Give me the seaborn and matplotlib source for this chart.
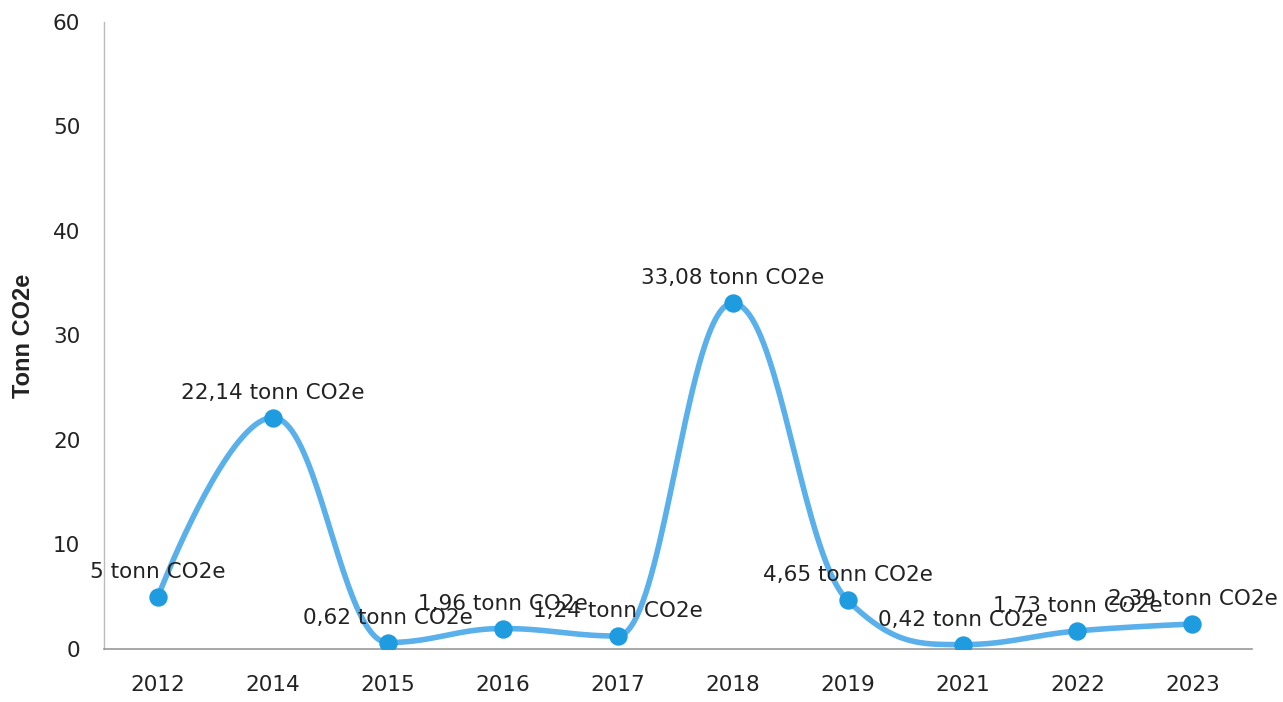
import numpy as np
import pandas as pd
import matplotlib
matplotlib.use("Agg")
import matplotlib.pyplot as plt
import seaborn as sns

years = ["2012", "2014", "2015", "2016", "2017", "2018", "2019", "2021", "2022", "2023"]
values = [5.0, 22.14, 0.62, 1.96, 1.24, 33.08, 4.65, 0.42, 1.73, 2.39]
labels = ["5 tonn CO2e", "22,14 tonn CO2e", "0,62 tonn CO2e", "1,96 tonn CO2e",
          "1,24 tonn CO2e", "33,08 tonn CO2e", "4,65 tonn CO2e", "0,42 tonn CO2e",
          "1,73 tonn CO2e", "2,39 tonn CO2e"]
y_ticks = [0, 10, 20, 30, 40, 50, 60]

sns.set_theme(style="white")
plt.rcParams['font.family'] = ['DejaVu Sans']

df = pd.DataFrame({"pos": np.arange(len(years)), "value": values})

# Highcharts-style spline (bezier with clamped control points)
def hc_spline(x, y, n=40):
    x = np.asarray(x, float); y = np.asarray(y, float)
    N = len(x)
    sm, den = 1.5, 2.5
    lcx, lcy, rcx, rcy = x.copy(), y.copy(), x.copy(), y.copy()
    for i in range(1, N - 1):
        px, py = x[i], y[i]
        lx, ly, nx, ny = x[i - 1], y[i - 1], x[i + 1], y[i + 1]
        a = (sm * px + lx) / den; b = (sm * py + ly) / den
        c = (sm * px + nx) / den; d = (sm * py + ny) / den
        corr = (d - b) * (c - px) / (c - a) + py - d
        b += corr; d += corr
        if b > ly and b > py:
            b = max(ly, py); d = 2 * py - b
        elif b < ly and b < py:
            b = min(ly, py); d = 2 * py - b
        if d > ny and d > py:
            d = max(ny, py); b = 2 * py - d
        elif d < ny and d < py:
            d = min(ny, py); b = 2 * py - d
        lcx[i], lcy[i], rcx[i], rcy[i] = a, b, c, d
    xs, ys = [], []
    t = np.linspace(0, 1, n, endpoint=False)
    for i in range(N - 1):
        P0 = (x[i], y[i]); P1 = (rcx[i], rcy[i]); P2 = (lcx[i + 1], lcy[i + 1]); P3 = (x[i + 1], y[i + 1])
        bx = (1 - t)**3 * P0[0] + 3 * (1 - t)**2 * t * P1[0] + 3 * (1 - t) * t**2 * P2[0] + t**3 * P3[0]
        by = (1 - t)**3 * P0[1] + 3 * (1 - t)**2 * t * P1[1] + 3 * (1 - t) * t**2 * P2[1] + t**3 * P3[1]
        xs.append(bx); ys.append(by)
    xs.append([x[-1]]); ys.append([y[-1]])
    return np.concatenate(xs), np.concatenate(ys)

sx, sy = hc_spline(df["pos"], df["value"])
smooth = pd.DataFrame({"pos": sx, "value": sy})

fig = plt.figure(figsize=(12.83, 7.02), dpi=100)
ax = fig.add_axes([0.081, 0.0755, 0.895, 0.8935])

sns.lineplot(data=smooth, x="pos", y="value", ax=ax, color="#5ab0ea", linewidth=4,
             sort=False, zorder=2)
sns.scatterplot(data=df, x="pos", y="value", ax=ax, color="#1f9be0", s=150,
                edgecolor="#1f9be0", zorder=3)

for xi, yi, lab in zip(df["pos"], df["value"], labels):
    ax.annotate(lab, (xi, yi), xytext=(0, 18), textcoords="offset points",
                ha="center", va="center", fontsize=15.5, color="#222222", zorder=4)

ax.set_xlim(-0.47, 9.52)
ax.set_ylim(0, 60)
ax.set_xticks(df["pos"])
ax.set_xticklabels(years)
ax.set_yticks(y_ticks)
ax.set_yticklabels([str(v) for v in y_ticks])
ax.tick_params(axis="both", labelsize=15.5, colors="#222222")
ax.tick_params(axis="x", direction="out", length=7, width=1, color="#aaaaaa", pad=12)
ax.tick_params(axis="y", direction="out", length=9, width=1, color="#cccccc", pad=8)
ax.set_xlabel("")
ax.set_ylabel("Tonn CO2e", fontsize=17, fontweight="bold", family="Liberation Sans",
              color="#222222", labelpad=13)

for side in ["top", "right"]:
    ax.spines[side].set_visible(False)
ax.spines["left"].set_color("#bbbbbb")
ax.spines["bottom"].set_color("#999999")
ax.spines["left"].set_linewidth(1)
ax.spines["bottom"].set_linewidth(1.2)

fig.savefig("out.png", dpi=100)
